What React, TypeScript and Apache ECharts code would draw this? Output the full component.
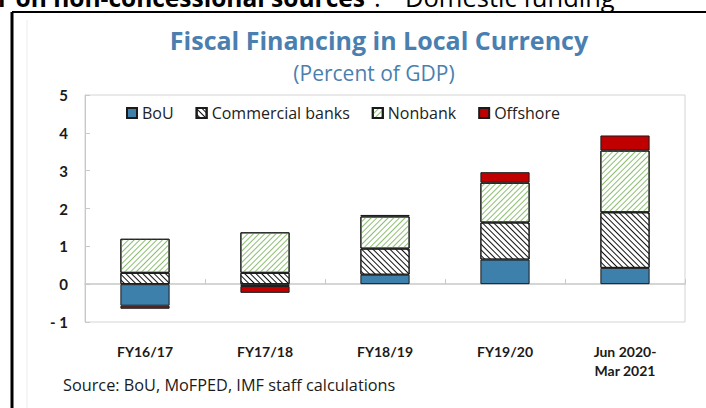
import React, { useEffect, useRef } from "react";
import * as echarts from "echarts";

const categories = ["FY16/17", "FY17/18", "FY18/19", "FY19/20", "Jun 2020-\nMar 2021"];
const bouValues = [-0.57, -0.05, 0.25, 0.65, 0.43];
const commercialValues = [0.3, 0.3, 0.69, 0.98, 1.47];
const nonbankValues = [0.9, 1.07, 0.85, 1.05, 1.63];
const offshoreValues = [-0.08, -0.18, 0.04, 0.28, 0.4];
const yTicks = { min: -1, max: 5, interval: 1 };

const FONT = "Lato, 'Open Sans', sans-serif";
const OS = "'Open Sans', sans-serif";

export default function App() {
  const ref = useRef<HTMLDivElement>(null);
  useEffect(() => {
    if (!ref.current) return;
    const chart = echarts.init(ref.current, null, { renderer: "svg" });
    const border = { borderColor: "#1a1a1a", borderWidth: 1 };
    const mk = (name: string, data: number[], itemStyle: any) => ({
      name,
      type: "bar",
      stack: "total",
      xAxisIndex: 0,
      barWidth: "41%",
      data,
      itemStyle,
    });
    chart.setOption({
      animation: false,
      backgroundColor: "#ffffff",
      textStyle: { fontFamily: FONT },
      grid: { left: 85, right: 21, top: 95, bottom: 86, show: true, borderColor: "#d4d4d4", borderWidth: 1 },
      legend: {
        top: 100,
        left: 121,
        itemWidth: 10,
        itemHeight: 10,
        itemGap: 22,
        icon: "rect",
        textStyle: { fontFamily: OS, fontSize: 16, color: "#222" },
        data: ["BoU", "Commercial banks", "Nonbank", "Offshore"],
      },
      xAxis: [
        {
          type: "category",
          data: categories,
          position: "bottom",
          axisLine: { show: false, onZero: false },
          axisTick: { show: false },
          axisLabel: { fontFamily: FONT, fontSize: 14, fontWeight: "bold", color: "#1a1a1a", margin: 20, lineHeight: 19 },
        },
        {
          type: "category",
          data: categories,
          position: "bottom",
          axisLine: { show: true, onZero: true, lineStyle: { color: "#c8c8c8", width: 1.5 } },
          axisTick: { show: true, inside: true, length: 5, lineStyle: { color: "#c8c8c8" } },
          axisLabel: { show: false },
        },
      ],
      yAxis: {
        type: "value",
        min: yTicks.min,
        max: yTicks.max,
        interval: yTicks.interval,
        axisLine: { show: true, lineStyle: { color: "#c8c8c8" } },
        axisTick: { show: true, inside: true, length: 5, lineStyle: { color: "#c8c8c8" } },
        splitLine: { show: false },
        axisLabel: {
          fontFamily: FONT,
          fontSize: 15,
          fontWeight: "bold",
          color: "#1a1a1a",
          margin: 17,
          formatter: (v: number) => (v < 0 ? "- " + Math.abs(v) : String(v)),
        },
      },
      series: [
        mk("BoU", bouValues, { color: "#3d80ab", ...border }),
        mk("Commercial banks", commercialValues, {
          color: "#ffffff",
          ...border,
          decal: {
            symbol: "rect",
            symbolSize: 1,
            color: "#111111",
            dashArrayX: [1, 0],
            dashArrayY: [1, 3],
            rotation: Math.PI / 4,
          },
        }),
        mk("Nonbank", nonbankValues, {
          color: "#ffffff",
          ...border,
          decal: {
            symbol: "rect",
            symbolSize: 1,
            color: "#8dbf72",
            dashArrayX: [1, 0],
            dashArrayY: [1, 3],
            rotation: -Math.PI / 4,
          },
        }),
        mk("Offshore", offshoreValues, { color: "#c00000", ...border }),
      ],
      graphic: [
        {
          type: "text",
          x: -2,
          y: 10,
          style: {
            text: "r on non-concessional sources",
            fontFamily: OS,
            fontSize: 24.5,
            fontWeight: "bold",
            fill: "#000",
            verticalAlign: "bottom",
          },
        },
        {
          type: "text",
          x: 374,
          y: 10,
          style: {
            text: ":",
            fontFamily: OS,
            fontSize: 25.5,
            fill: "#000",
            verticalAlign: "bottom",
          },
        },
        {
          type: "text",
          x: 405,
          y: 10,
          style: {
            text: "Domestic funding",
            fontFamily: OS,
            fontSize: 25.5,
            fill: "#000",
            verticalAlign: "bottom",
          },
        },
        { type: "line", shape: { x1: 12, y1: 12, x2: 706, y2: 12 }, style: { stroke: "#000", lineWidth: 2 } },
        { type: "line", shape: { x1: 12, y1: 12, x2: 12, y2: 408 }, style: { stroke: "#000", lineWidth: 3 } },
        { type: "line", shape: { x1: 27, y1: 20, x2: 27, y2: 408 }, style: { stroke: "#ececec", lineWidth: 1 } },
        {
          type: "text",
          x: 379,
          y: 40,
          style: {
            text: "Fiscal Financing in Local Currency",
            fontFamily: OS,
            fontSize: 25,
            fontWeight: "bold",
            fill: "#4a7fb0",
            align: "center",
            verticalAlign: "middle",
          },
        },
        {
          type: "text",
          x: 374,
          y: 73,
          style: {
            text: "(Percent of GDP)",
            fontFamily: OS,
            fontSize: 21,
            fill: "#4a7fb0",
            align: "center",
            verticalAlign: "middle",
          },
        },
        {
          type: "text",
          x: 63,
          y: 385,
          style: {
            text: "Source: BoU, MoFPED, IMF staff calculations",
            fontFamily: OS,
            fontSize: 16.3,
            fill: "#1a1a1a",
            verticalAlign: "middle",
          },
        },
      ],
    });
    return () => chart.dispose();
  }, []);
  return <div ref={ref} style={{ position: "fixed", left: 0, top: 0, width: 706, height: 408 }} />;
}
